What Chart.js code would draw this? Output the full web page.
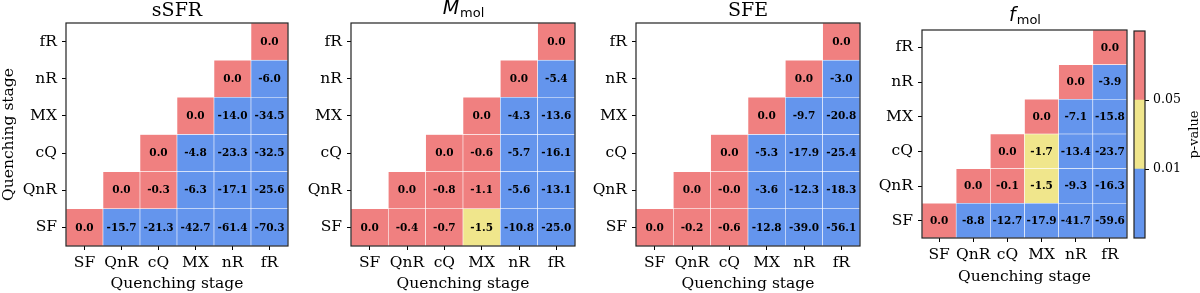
<!DOCTYPE html>
<html>
<head>
<meta charset="utf-8">
<script src="https://cdn.jsdelivr.net/npm/chart.js@4.4.1/dist/chart.umd.min.js"></script>
<style>
  html, body { margin: 0; padding: 0; background: #fff; }
  #wrap { position: relative; width: 1200px; height: 293px; }
  #wrap canvas { position: absolute; left: 0; top: 0; }
</style>
</head>
<body>
<div id="wrap">
  <canvas id="c0" width="1200" height="293"></canvas>
  <canvas id="c1" width="1200" height="293"></canvas>
  <canvas id="c2" width="1200" height="293"></canvas>
  <canvas id="c3" width="1200" height="293"></canvas>
  <canvas id="cbar" width="1200" height="293"></canvas>
</div>
<script>
// stages, bottom row first
var stages = ['SF', 'QnR', 'cQ', 'MX', 'nR', 'fR'];

// values[row][col], row = y stage, col = x stage (only col >= row used)
var sSFRVals = [
  [0.0, -15.7, -21.3, -42.7, -61.4, -70.3],
  [null, 0.0, -0.3, -6.3, -17.1, -25.6],
  [null, null, 0.0, -4.8, -23.3, -32.5],
  [null, null, null, 0.0, -14.0, -34.5],
  [null, null, null, null, 0.0, -6.0],
  [null, null, null, null, null, 0.0]
];
var mmolVals = [
  [0.0, -0.4, -0.7, -1.5, -10.8, -25.0],
  [null, 0.0, -0.8, -1.1, -5.6, -13.1],
  [null, null, 0.0, -0.6, -5.7, -16.1],
  [null, null, null, 0.0, -4.3, -13.6],
  [null, null, null, null, 0.0, -5.4],
  [null, null, null, null, null, 0.0]
];
var sfeVals = [
  [0.0, -0.2, -0.6, -12.8, -39.0, -56.1],
  [null, 0.0, -0, -3.6, -12.3, -18.3],
  [null, null, 0.0, -5.3, -17.9, -25.4],
  [null, null, null, 0.0, -9.7, -20.8],
  [null, null, null, null, 0.0, -3.0],
  [null, null, null, null, null, 0.0]
];
var fmolVals = [
  [0.0, -8.8, -12.7, -17.9, -41.7, -59.6],
  [null, 0.0, -0.1, -1.5, -9.3, -16.3],
  [null, null, 0.0, -1.7, -13.4, -23.7],
  [null, null, null, 0.0, -7.1, -15.8],
  [null, null, null, null, 0.0, -3.9],
  [null, null, null, null, null, 0.0]
];

// p-value class per cell: 0 = p>0.05, 1 = 0.01<p<0.05, 2 = p<0.01
var sSFRP = [
  [0, 2, 2, 2, 2, 2],
  [null, 0, 0, 2, 2, 2],
  [null, null, 0, 2, 2, 2],
  [null, null, null, 0, 2, 2],
  [null, null, null, null, 0, 2],
  [null, null, null, null, null, 0]
];
var mmolP = [
  [0, 0, 0, 1, 2, 2],
  [null, 0, 0, 0, 2, 2],
  [null, null, 0, 0, 2, 2],
  [null, null, null, 0, 2, 2],
  [null, null, null, null, 0, 2],
  [null, null, null, null, null, 0]
];
var sfeP = [
  [0, 0, 0, 2, 2, 2],
  [null, 0, 0, 2, 2, 2],
  [null, null, 0, 2, 2, 2],
  [null, null, null, 0, 2, 2],
  [null, null, null, null, 0, 2],
  [null, null, null, null, null, 0]
];
var fmolP = [
  [0, 2, 2, 2, 2, 2],
  [null, 0, 0, 1, 2, 2],
  [null, null, 0, 1, 2, 2],
  [null, null, null, 0, 2, 2],
  [null, null, null, null, 0, 2],
  [null, null, null, null, null, 0]
];

// colorbar
var cbarLevels = [0, 1, 2, 3];
var cbarTickVals = [1, 2];
var cbarTickLabels = ['0.01', '0.05'];
var pColors = ['#F08080', '#F0E68C', '#6495ED'];

var serif = "'DejaVu Serif', serif";
var sans = "'DejaVu Sans', sans-serif";

function fmt(v) {
  var neg = v < 0 || Object.is(v, -0);
  return (neg ? '-' : '') + Math.abs(v).toFixed(1);
}

// frame + cell labels + title
var heatPlugin = {
  id: 'heat',
  afterDatasetsDraw: function(chart) {
    var ctx = chart.ctx;
    var o = chart.options.plugins.heat;
    ctx.save();
    ctx.fillStyle = '#000';
    ctx.font = 'bold 10.5px ' + serif;
    ctx.textAlign = 'center';
    ctx.textBaseline = 'middle';
    chart.data.datasets.forEach(function(ds, r) {
      var meta = chart.getDatasetMeta(r);
      meta.data.forEach(function(el, c) {
        if (ds.data[c] == null) return;
        var p = el.getCenterPoint();
        ctx.fillText(fmt(o.vals[r][c]), p.x, p.y + 0.5);
      });
    });
    var a = chart.chartArea;
    ctx.strokeStyle = '#222';
    ctx.lineWidth = 1.2;
    ctx.strokeRect(a.left, a.top, a.right - a.left, a.bottom - a.top);
    // title
    var cx = (a.left + a.right) / 2;
    var by = a.top - o.titleGap;
    ctx.textBaseline = 'alphabetic';
    if (o.sub) {
      ctx.font = 'italic 19px ' + sans;
      var w1 = ctx.measureText(o.title).width;
      ctx.font = '13px ' + sans;
      var w2 = ctx.measureText(o.sub).width;
      var x0 = cx - (w1 + w2) / 2;
      ctx.textAlign = 'left';
      ctx.font = 'italic 19px ' + sans;
      ctx.fillText(o.title, x0, by);
      ctx.font = '13px ' + sans;
      ctx.fillText(o.sub, x0 + w1 + 1, by + 3);
    } else {
      ctx.textAlign = 'center';
      ctx.font = '19px ' + serif;
      ctx.fillText(o.title, cx, by);
    }
    ctx.restore();
  }
};

function makePanel(id, vals, pcls, opts) {
  var datasets = vals.map(function(row, r) {
    return {
      data: row.map(function(v, c) { return v == null ? null : [r - 0.5, r + 0.5]; }),
      backgroundColor: pcls[r].map(function(k) { return k == null ? 'rgba(0,0,0,0)' : pColors[k]; }),
      borderColor: 'rgba(255,255,255,0.85)',
      borderWidth: 0.6,
      borderSkipped: false,
      grouped: false,
      barPercentage: 1,
      categoryPercentage: 1
    };
  });
  return new Chart(document.getElementById(id), {
    type: 'bar',
    data: { labels: stages, datasets: datasets },
    plugins: [heatPlugin],
    options: {
      responsive: false,
      animation: false,
      events: [],
      layout: { padding: { left: opts.padLeft, right: 1200 - opts.right, top: opts.top, bottom: 0 } },
      plugins: {
        legend: { display: false },
        tooltip: { enabled: false },
        heat: { vals: vals, title: opts.title, sub: opts.sub, titleGap: opts.titleGap }
      },
      scales: {
        x: {
          type: 'category',
          offset: true,
          grid: { offset: false, drawOnChartArea: false, color: '#000', tickLength: 4, tickWidth: 1 },
          border: { display: false },
          ticks: { color: '#000', font: { family: serif, size: 15.5 }, padding: 4, maxRotation: 0, autoSkip: false },
          title: { display: true, text: 'Quenching stage', color: '#000', font: { family: serif, size: 15.5 }, padding: { top: 0, bottom: opts.xTitlePad } },
          afterFit: function(s) { s.height = 293 - opts.bottom; }
        },
        y: {
          type: 'linear',
          min: -0.5,
          max: 5.5,
          grid: { drawOnChartArea: false, color: '#000', tickLength: 4, tickWidth: 1 },
          border: { display: false },
          afterBuildTicks: function(s) { s.ticks = stages.map(function(_, i) { return { value: i }; }); },
          ticks: {
            color: '#000', font: { family: serif, size: 15.5 }, padding: 5,
            callback: function(v) { return stages[v]; }
          },
          title: { display: !!opts.yTitle, text: 'Quenching stage', color: '#000', font: { family: serif, size: 15.5 }, padding: 0 },
          afterFit: function(s) { s.width = opts.yWidth; }
        }
      }
    }
  });
}

makePanel('c0', sSFRVals, sSFRP, { padLeft: 0, yWidth: 66, right: 288, top: 23, bottom: 246, title: 'sSFR', titleGap: 7, yTitle: true, xTitlePad: 0 });
makePanel('c1', mmolVals, mmolP, { padLeft: 291, yWidth: 60, right: 575, top: 23, bottom: 246, title: 'M', sub: 'mol', titleGap: 9, xTitlePad: 0 });
makePanel('c2', sfeVals, sfeP, { padLeft: 576, yWidth: 60, right: 860, top: 23, bottom: 246, title: 'SFE', titleGap: 7, xTitlePad: 0 });
makePanel('c3', fmolVals, fmolP, { padLeft: 862, yWidth: 60, right: 1127, top: 30, bottom: 238, title: 'f', sub: 'mol', titleGap: 9, xTitlePad: 7 });

// colorbar
var cbarSets = pColors.slice().reverse().map(function(col, i) {
  return {
    data: [[cbarLevels[i], cbarLevels[i + 1]]],
    backgroundColor: col,
    borderWidth: 0,
    grouped: false,
    barPercentage: 1,
    categoryPercentage: 1
  };
});
var cbarPlugin = {
  id: 'cbarFrame',
  afterDatasetsDraw: function(chart) {
    var ctx = chart.ctx, a = chart.chartArea;
    ctx.save();
    ctx.strokeStyle = '#222';
    ctx.lineWidth = 1.2;
    ctx.strokeRect(a.left, a.top, a.right - a.left, a.bottom - a.top);
    ctx.translate(1195, (a.top + a.bottom) / 2);
    ctx.rotate(-Math.PI / 2);
    ctx.fillStyle = '#000';
    ctx.font = '13px ' + serif;
    ctx.textAlign = 'center';
    ctx.textBaseline = 'middle';
    ctx.fillText('p-value', 0, 0);
    ctx.restore();
  }
};
new Chart(document.getElementById('cbar'), {
  type: 'bar',
  data: { labels: [''], datasets: cbarSets },
  plugins: [cbarPlugin],
  options: {
    responsive: false,
    animation: false,
    events: [],
    layout: { padding: { left: 1134, right: 0, top: 31, bottom: 55 } },
    plugins: { legend: { display: false }, tooltip: { enabled: false } },
    scales: {
      x: { display: false },
      y: {
        position: 'right',
        min: cbarLevels[0],
        max: cbarLevels[cbarLevels.length - 1],
        grid: { drawOnChartArea: false, color: '#000', tickLength: 4 },
        border: { display: false },
        afterBuildTicks: function(s) { s.ticks = cbarTickVals.map(function(v) { return { value: v }; }); },
        ticks: {
          color: '#000', font: { family: serif, size: 12.5 }, padding: 4,
          callback: function(v) { return cbarTickLabels[cbarTickVals.indexOf(v)]; }
        },
        afterFit: function(s) { s.width = 55; }
      }
    }
  }
});
</script>
</body>
</html>
